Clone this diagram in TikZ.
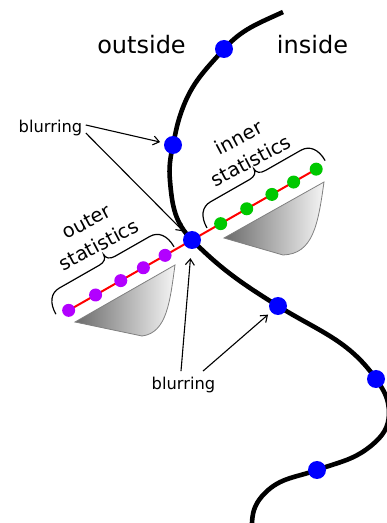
\documentclass[tikz,border=0pt]{standalone}
\usepackage{fontspec}
\setmainfont{DejaVu Sans}
\usetikzlibrary{arrows.meta}
\definecolor{statpurple}{RGB}{178,0,255}
\definecolor{statgreen}{RGB}{0,200,0}
% curly brace along the statistics line, local (u,v) coordinates
\newcommand\statbrace[3]{%
  \draw[bracepen] (#1,3) .. controls (#1,16) and (#1+6,24) .. (#1+16,24)
    -- (#2-9,24) .. controls (#2-3,24) and (#2,27) .. (#2,31)
    .. controls (#2,27) and (#2+3,24) .. (#2+9,24)
    -- (#3-16,24) .. controls (#3-6,24) and (#3,16) .. (#3,3);}
\begin{document}
\begin{tikzpicture}[x=1pt,y=1pt,
  bdot/.style={circle,fill=blue,inner sep=0pt,minimum size=18pt},
  pdot/.style={circle,fill=statpurple,inner sep=0pt,minimum size=13pt},
  gdot/.style={circle,fill=statgreen,inner sep=0pt,minimum size=13pt},
  bracepen/.style={line width=1.2pt,black},
  arr/.style={line width=1.1pt,-{Straight Barb[length=6pt,width=9pt]}},
  lbl/.style={font=\fontsize{16.3}{20}\selectfont},
  side/.style={font=\fontsize{24}{28}\selectfont},
  stat/.style={font=\fontsize{19.5}{26}\selectfont,align=center,rotate=28},
  pile/.style={draw=black!50,line width=0.8pt,left color=black!58,right color=black!4}
]
\useasboundingbox (0,0) rectangle (387,523);

% the boundary curve
\draw[line width=4.6pt]
  (283,511) to[out=205,in=48] (224,474)
  to[out=228,in=70] (182,413)
  to[out=250,in=78] (173,378)
  to[out=258,in=95] (170,342)
  to[out=275,in=135] (192,283)
  to[out=315,in=148] (278,217)
  to[out=328,in=125] (376,144)
  to[out=305,in=90] (389,110)
  to[out=270,in=40] (372,78)
  to[out=220,in=20] (317,53)
  to[out=200,in=45] (265,30)
  to[out=225,in=88] (252,0)
  -- (251.8,-6);

% shaded histograms
\draw[pile] (75,201) -- (175,258) .. controls (170,222) and (167,190) .. (142,187) -- cycle;
\draw[pile] (224,285) -- (324,341) .. controls (318,298) and (313,269) .. (283,268) -- cycle;

% statistics line with samples
\begin{scope}[shift={(192,283)},rotate=29.7]
  \draw[red,line width=2pt] (-142,0) -- (143,0);
  \foreach \u [count=\i] in {-142,-111,-82,-56,-31}
    \node[pdot] (o\i) at (\u,0) {};
  \foreach \u [count=\i] in {33,63,92,117,143}
    \node[gdot] (g\i) at (\u,0) {};
  \statbrace{-155}{-84}{-19}
  \statbrace{19}{89}{155}
  \node[stat] (outerlbl) at (-83,55) {outer\\statistics};
  \node[stat] (innerlbl) at (91,53) {inner\\statistics};
\end{scope}

% sample points on the boundary
\node[bdot] (d1) at (224,474) {};
\node[bdot] (d2) at (173,378) {};
\node[bdot] (dC) at (192,283) {};
\node[bdot] (d3) at (278,217) {};
\node[bdot] (d4) at (376,144) {};
\node[bdot] (d5) at (317,53) {};

% labels
\node[side,anchor=base] (outside) at (141.5,469) {outside};
\node[side,anchor=base] (inside) at (312.5,469) {inside};
\node[lbl,anchor=base] (blurA) at (50.5,390) {blurring};
\node[lbl,anchor=base] (blurB) at (183.5,133) {blurring};

% arrows
\draw[arr,shorten >=4pt] ([yshift=3.5pt]blurA.east) -- (d2);
\draw[arr,shorten >=3pt] ([yshift=-4.5pt]blurA.east) -- (dC);
\draw[arr,shorten >=9pt] ([xshift=-2.5pt,yshift=3pt]blurB.north) -- (dC);
\draw[arr,shorten >=4pt] ([xshift=19.5pt,yshift=3pt]blurB.north) -- (d3);
\end{tikzpicture}
\end{document}
